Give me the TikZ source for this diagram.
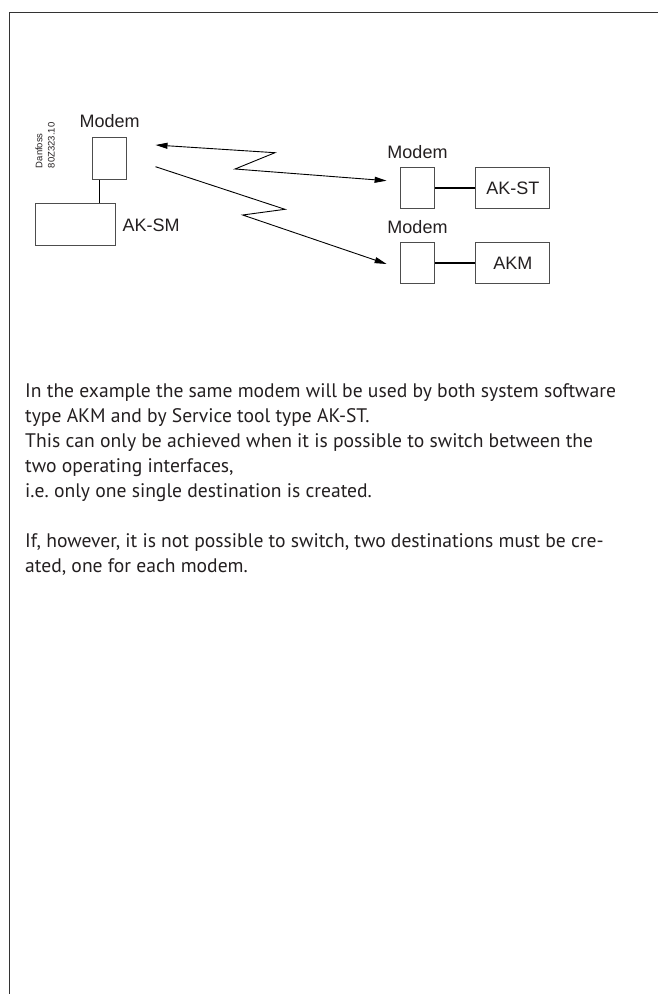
\documentclass[tikz,border=0pt]{standalone}
\usepackage{fontspec}
\setmainfont{PT Sans}
\newfontfamily\arialfont{Liberation Sans}
\usepackage{tikz}
\usetikzlibrary{arrows.meta, positioning, calc}
\definecolor{dfline}{HTML}{4D4D4D}
\definecolor{dfink}{HTML}{231F20}
\definecolor{dfframe}{HTML}{333333}

\begin{document}
\begin{tikzpicture}[x=1pt, y=-1pt, >={Triangle[length=12pt, width=6pt]},
          box/.style={draw=dfline, line width=1pt, inner sep=0pt, text=dfink,
                      font=\arialfont\fontsize{18}{20}\selectfont},
          lbl/.style={inner sep=0pt, text=dfink, font=\arialfont\fontsize{18}{20}\selectfont},
          link/.style={draw=black, line width=.9pt},
          wire/.style={draw=black, line width=1pt}]
          \useasboundingbox (0,0) rectangle (658,994);
          \draw[dfframe, line width=1.5pt] (9.7,994) -- (9.7,12.7) -- (658,12.7);
          % AK-SM side
          \node[box, minimum width=34pt, minimum height=42pt] (sm) at (109.7,158.3) {};
          \node[box, minimum width=80pt, minimum height=42pt] (aksm) at (75.8,224.8) {};
          \node[lbl, above=9pt of sm] (smlbl) {Modem};
          \node[lbl, right=6pt of aksm] (aksmlbl) {AK-SM};
          \node[inner sep=0pt, rotate=90, anchor=south west, align=left, text=dfink,
                font=\arialfont\fontsize{9.5}{12.3}\selectfont] (code) at (55,168.3) {Danfoss\\80Z323.10};
          \draw[wire] ([xshift=-10.4pt]sm.south) -- ([xshift=-10.4pt]sm.south |- aksm.north);
          % remote side
          \node[box, minimum width=34pt, minimum height=41pt] (stmodem) at (417.5,188.3) {};
          \node[box, minimum width=74pt, minimum height=41pt] (akst) at (512.8,188.3) {AK-ST};
          \node[box, minimum width=34pt, minimum height=41pt] (akmmodem) at (417.5,263.3) {};
          \node[box, minimum width=74pt, minimum height=41pt] (akm) at (512.8,263.3) {AKM};
          \node[lbl, above=8.5pt of stmodem] (stlbl) {Modem};
          \node[lbl, above=8.5pt of akmmodem] (akmlbl) {Modem};
          \draw[wire, line width=2pt] (stmodem.east) -- (akst.west);
          \draw[wire, line width=2pt] (akmmodem.east) -- (akm.west);
          % radio links
          \coordinate (k1) at (275,152.7);
          \coordinate (k2) at (235,169);
          \coordinate (k3) at (285,209.3);
          \coordinate (k4) at (242.7,215);
          \draw[link, <->] ($(sm.east)+(28.3,-13.3)$) -- (k1) -- (k2) -- ($(stmodem.west)+(-13.4,-7.6)$);
          \draw[link, ->] ($(sm.east)+(28.3,8.4)$) -- (k3) -- (k4) -- ($(akmmodem.west)+(-13.4,.7)$);
          % note (base = last line)
          \node[anchor=base west, align=left, inner sep=0pt, text=dfink,
                font=\fontsize{19.6}{25}\selectfont] (note) at (25,572)
                {In the example the same modem will be used by both system software\\
                 type AKM and by Service tool type AK-ST.\\
                 This can only be achieved when it is possible to switch between the\\
                 two operating interfaces,\\
                 i.e.\ only one single destination is created.\\[25pt]
                 If, however, it is not possible to switch, two destinations must be cre-\\
                 ated, one for each modem.};
        \end{tikzpicture}
\end{document}
